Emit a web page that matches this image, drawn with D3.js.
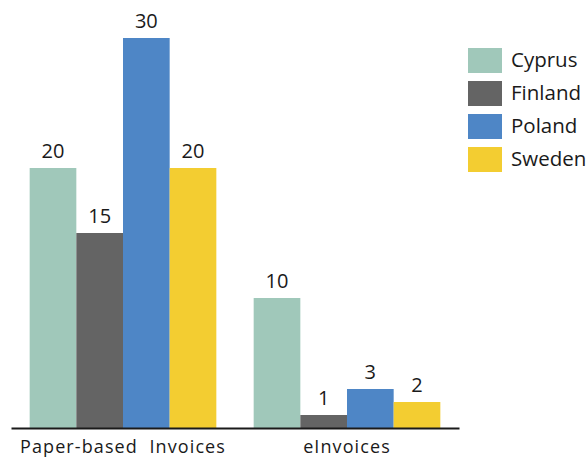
<!DOCTYPE html>
<html><head><meta charset="utf-8">
<script src="https://cdn.jsdelivr.net/npm/d3@7/dist/d3.min.js"></script>
<style>body{margin:0;background:#fff;} svg{display:block;}</style>
</head><body>
<svg id="chart" width="587" height="459"></svg>
<script>
const categories = ["Paper-based  Invoices", "eInvoices"];
const countries = ["Cyprus", "Finland", "Poland", "Sweden"];
const cyprus = [20, 10];
const finland = [15, 1];
const poland = [30, 3];
const sweden = [20, 2];
const colors = ["#A0C8BA", "#646464", "#4E86C6", "#F3CD31"];

const seriesValues = [cyprus, finland, poland, sweden];
const svg = d3.select("#chart");
const font = "'Open Sans', 'Noto Sans', sans-serif";

const mLeft = 11, mRight = 459, mBase = 428, mTop = 38;
const x0 = d3.scaleBand().domain(categories).range([mLeft, mRight]).paddingInner(0).paddingOuter(0);
const x1 = d3.scaleBand().domain(countries).range([0, x0.bandwidth()]).paddingOuter(0.4).paddingInner(0);
const y = d3.scaleLinear().domain([0, 30]).range([mBase, mTop]);

const groups = svg.selectAll("g.cat").data(categories).enter().append("g")
  .attr("transform", d => `translate(${x0(d)},0)`);

groups.each(function(cat, ci) {
  const g = d3.select(this);
  countries.forEach((c, si) => {
    const v = seriesValues[si][ci];
    g.append("rect")
      .attr("x", x1(c)).attr("y", y(v))
      .attr("width", x1.bandwidth()).attr("height", y(0) - y(v))
      .attr("fill", colors[si]);
    g.append("text")
      .attr("x", x1(c) + x1.bandwidth() / 2).attr("y", y(v) - 10)
      .attr("text-anchor", "middle")
      .attr("font-family", font).attr("font-size", 20).attr("fill", "#1a1a1a")
      .text(v);
  });
});

const xAxis = d3.axisBottom(x0).tickSize(0).tickPadding(12);
const ax = svg.append("g").attr("transform", `translate(0,${mBase})`).call(xAxis);
ax.select(".domain").attr("stroke", "#1a1a1a").attr("stroke-width", 2);
ax.selectAll("text").attr("font-family", font).attr("font-size", 18).attr("fill", "#1a1a1a")
  .attr("letter-spacing", 1.1)
  .style("white-space", "pre");

const legend = svg.append("g").attr("transform", "translate(468,48)");
countries.forEach((c, i) => {
  const row = legend.append("g").attr("transform", `translate(0,${i * 33})`);
  row.append("rect").attr("width", 34).attr("height", 25).attr("fill", colors[i]);
  row.append("text").attr("x", 43).attr("y", 19)
    .attr("font-family", font).attr("font-size", 20.5).attr("fill", "#1a1a1a").text(c);
});
</script>
</body></html>
